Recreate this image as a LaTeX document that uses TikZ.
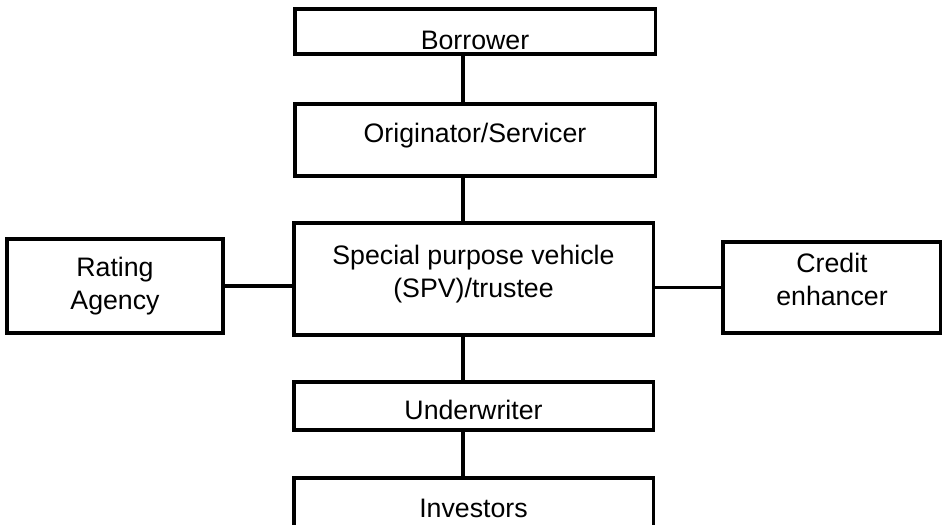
\documentclass[tikz,border=0pt]{standalone}
\usepackage{fontspec}
\setmainfont{Liberation Sans}
\usetikzlibrary{positioning}
\tikzstyle{block} = [rectangle, draw, line width=2.2pt, align=center,
    inner sep=0pt, font=\fontsize{19}{23.5}\selectfont]
\tikzstyle{line} = [draw, line width=2.2pt]

\begin{document}
\begin{tikzpicture}[x=0.025cm, y=-0.025cm]
  \clip (0,0) rectangle (942,525);
  % Place nodes
  \node [block, minimum width=9cm, minimum height=1.125cm, text height=26pt, text depth=0pt] (bor) at (475,31.5) {Borrower};
  \node [block, minimum width=9cm, minimum height=1.8cm, text height=13.9pt, text depth=9.7pt] (orig) at (475,140) {Originator/Servicer};
  \node [block, minimum width=8.975cm, minimum height=2.8cm, text height=37.4pt, text depth=11pt] (spv) at (473.5,279) {Special purpose vehicle\\(SPV)/trustee};
  \node [block, minimum width=5.4cm, minimum height=2.35cm] (rat) at (115,286) {Rating\\Agency};
  \node [block, minimum width=5.45cm, minimum height=2.275cm, text height=37.2pt, text depth=11.2pt] (cred) at (832,287.5) {Credit\\enhancer};
  \node [block, minimum width=8.975cm, minimum height=1.2cm, text height=19pt, text depth=0pt] (und) at (473.5,406) {Underwriter};
  \node [block, minimum width=8.975cm, minimum height=1.5cm] (inv) at (473.5,508) {Investors};
  \coordinate (spine) at (463,0);
  % Draw edges
  \path [line] (bor.south -| spine) -- (orig.north -| spine);
  \path [line] (orig.south -| spine) -- (spv.north -| spine);
  \path [line] (spv.south -| spine) -- (und.north -| spine);
  \path [line] (und.south -| spine) -- (inv.north -| spine);
  \path [line] (rat.east) -- (rat.east -| spv.west);
  \path [line] (cred.west -| spv.east) -- (cred.west);
\end{tikzpicture}
\end{document}
